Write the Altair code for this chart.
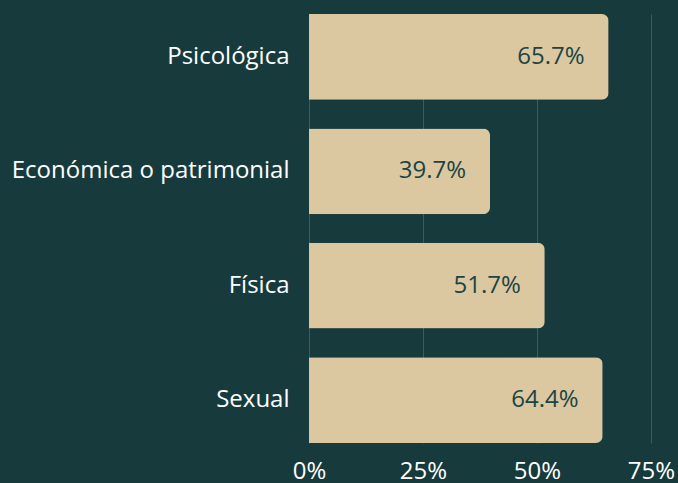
import altair as alt
import pandas as pd

categories = ["Psicológica", "Económica o patrimonial", "Física", "Sexual"]
values = [65.7, 39.7, 51.7, 64.4]
tick_values = [0, 25, 50, 75]

df = pd.DataFrame({"tipo": categories, "pct": values})
df["label"] = [f"{v:.1f}%" for v in values]

BG = "#173b3c"
BAR = "#dcc8a0"
FONT = "Open Sans"

y_enc = alt.Y("tipo:N", sort=categories, title=None,
              scale=alt.Scale(paddingInner=0.25, paddingOuter=0),
              axis=alt.Axis(labelFontSize=24, labelColor="#ffffff", labelPadding=20,
                            ticks=False, domain=False, grid=False, labelFont=FONT,
                            labelLimit=400))
x_enc = alt.X("pct:Q", title=None,
              scale=alt.Scale(domain=[0, 75], nice=False),
              axis=alt.Axis(values=tick_values, labelExpr="datum.value + '%'",
                            labelFontSize=24, labelColor="#ffffff", labelFont=FONT,
                            ticks=False, domain=False, grid=True, gridColor="#3a5c5c",
                            gridWidth=1, labelPadding=16, labelFlush=False))

bars = alt.Chart(df).mark_bar(color=BAR, cornerRadiusEnd=7).encode(x=x_enc, y=y_enc)
text = alt.Chart(df).mark_text(align="right", baseline="middle", dx=-24, fontSize=24,
                               color="#1b4444", font=FONT).encode(
    x=alt.X("pct:Q"), y=alt.Y("tipo:N", sort=categories), text="label:N")

chart = (bars + text).properties(
    width=342, height=429, background=BG,
    autosize=alt.AutoSizeParams(type="none"),
    padding={"left": 309, "top": 14, "right": 27, "bottom": 40},
).configure_view(stroke=None)

chart.save("out.html", embed_options={"renderer": "svg", "actions": False})
